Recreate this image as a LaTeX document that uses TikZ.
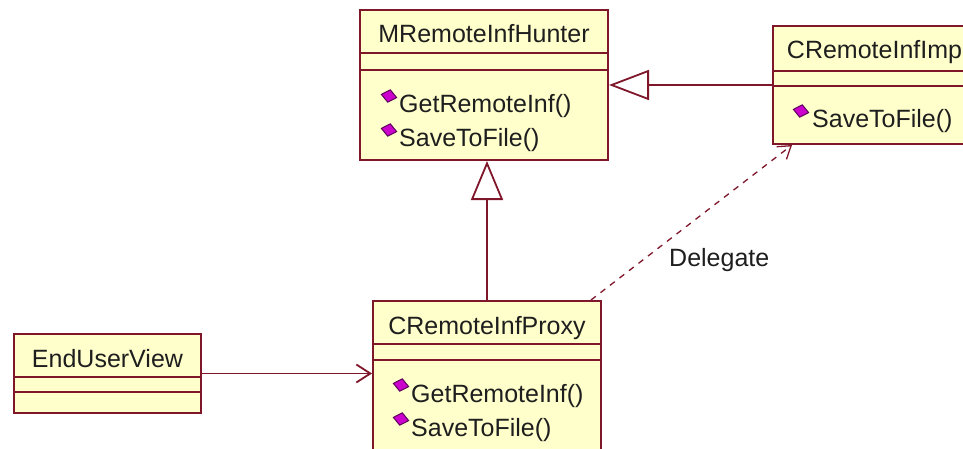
\documentclass[tikz,border=0pt]{standalone}
\usepackage{fontspec}
\setmainfont{Liberation Sans}
\usetikzlibrary{arrows.meta,shapes.geometric}
\definecolor{umlline}{RGB}{128,22,42}
\definecolor{umlfill}{RGB}{255,255,204}
\definecolor{opfill}{RGB}{204,0,204}
\definecolor{optext}{RGB}{30,30,30}
\begin{document}
\begin{tikzpicture}[x=1pt,y=-1pt,font=\fontsize{25}{30}\selectfont,
  classbox/.style={draw=umlline,fill=umlfill,line width=2pt,rectangle,inner sep=0pt},
  divider/.style={draw=umlline,line width=2pt},
  cname/.style={anchor=base,inner sep=0pt,text=optext},
  opname/.style={anchor=base west,inner sep=0pt,text=optext},
  opmark/.style={diamond,fill=opfill,draw=black!55!opfill,line width=1pt,inner sep=0pt,minimum width=16pt,minimum height=13pt,rotate=-12},
  conn/.style={draw=umlline,line width=1.8pt},
  depline/.style={draw=umlline,line width=1.3pt,dash pattern=on 6pt off 6pt}]
\useasboundingbox (0,0) rectangle (963,449);
\clip (0,0) rectangle (963,449);
\fill[white] (0,0) rectangle (963,449);

% MRemoteInfHunter
\node[classbox,minimum width=248pt,minimum height=150pt] (hunter) at (484,85) {};
\draw[divider] (hunter.west |- 0,53) -- (hunter.east |- 0,53);
\draw[divider] (hunter.west |- 0,70) -- (hunter.east |- 0,70);
\node[cname] (huntername) at (484,43) {MRemoteInfHunter};
\node[opmark] (hm1) at (389,96) {};
\node[opname] (hop1) at (399,113) {GetRemoteInf()};
\node[opmark] (hm2) at (389,130) {};
\node[opname] (hop2) at (399,147) {SaveToFile()};

% CRemoteInfImp
\node[classbox,minimum width=203pt,minimum height=118pt] (imp) at (874.5,85) {};
\draw[divider] (imp.west |- 0,71) -- (imp.east |- 0,71);
\draw[divider] (imp.west |- 0,86) -- (imp.east |- 0,86);
\node[cname] (impname) at (874.5,59) {CRemoteInfImp};
\node[opmark] (im1) at (801,111) {};
\node[opname] (iop1) at (812,128) {SaveToFile()};

% CRemoteInfProxy
\node[classbox,minimum width=228pt,minimum height=170pt] (proxy) at (487,386) {};
\draw[divider] (proxy.west |- 0,344) -- (proxy.east |- 0,344);
\draw[divider] (proxy.west |- 0,360) -- (proxy.east |- 0,360);
\node[cname] (proxyname) at (487,334) {CRemoteInfProxy};
\node[opmark] (pm1) at (401,385) {};
\node[opname] (pop1) at (411,402) {GetRemoteInf()};
\node[opmark] (pm2) at (401,419) {};
\node[opname] (pop2) at (411,436) {SaveToFile()};

% EndUserView
\node[classbox,minimum width=187pt,minimum height=79pt] (enduser) at (107.5,373.5) {};
\draw[divider] (enduser.west |- 0,377) -- (enduser.east |- 0,377);
\draw[divider] (enduser.west |- 0,392) -- (enduser.east |- 0,392);
\node[cname] (endusername) at (107.5,367) {EndUserView};

% connectors
\draw[conn,-{Straight Barb[length=14pt,width=18pt]}] (enduser.east) -- (enduser.east -| proxy.west);
\draw[conn,-{Triangle[open,length=39pt,width=32pt,fill=white]}] (proxy.north) -- (proxy.north |- hunter.south);
\draw[conn,-{Triangle[open,length=40pt,width=30pt,fill=white]}] (imp.west) -- (imp.west -| hunter.east);
\draw[depline,-{Straight Barb[length=12pt,width=16pt]}] ([xshift=-11pt]proxy.north east) -- ([xshift=20pt]imp.south west);
\node[anchor=base west,inner sep=0pt,text=optext] (delegate) at (669,266) {Delegate};
\end{tikzpicture}
\end{document}
